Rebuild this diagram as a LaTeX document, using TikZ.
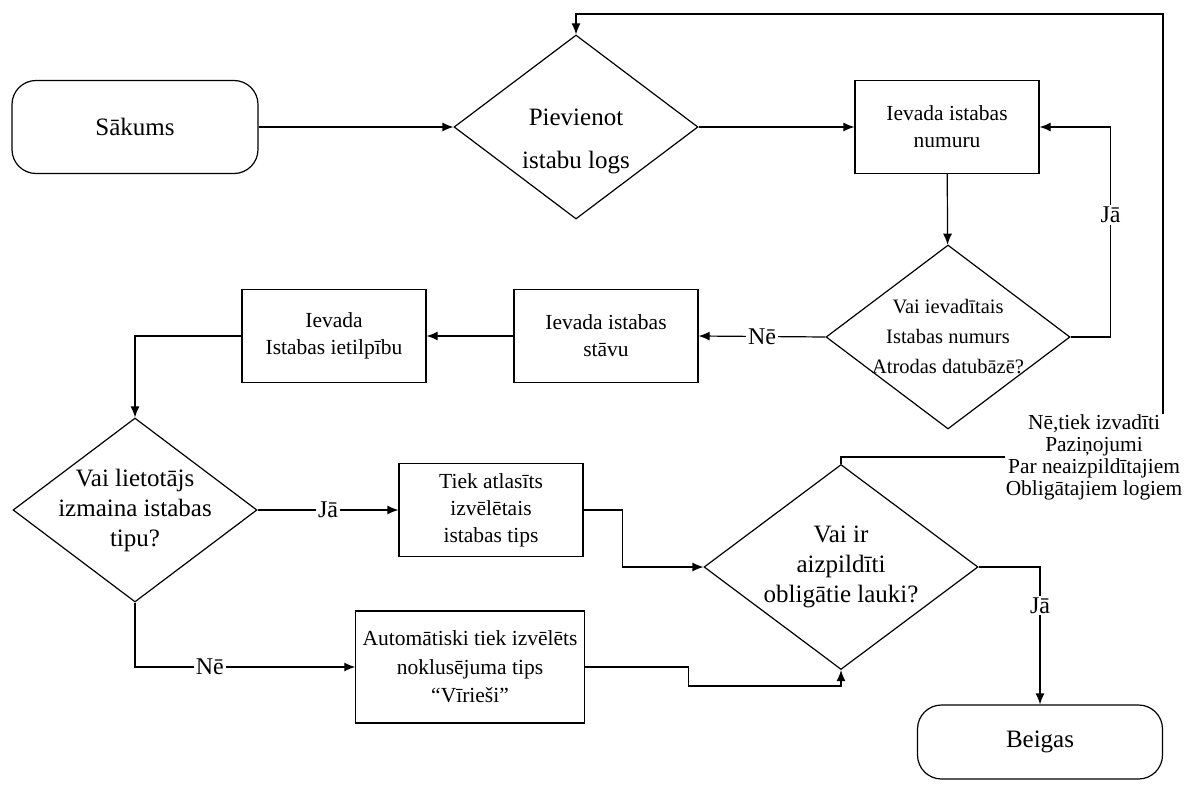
\documentclass[tikz,border=0pt]{standalone}
\usepackage{fontspec}
\setmainfont{Liberation Serif}
\usetikzlibrary{arrows.meta,shapes.geometric}

\begin{document}
\begin{tikzpicture}[->,>={Latex[length=5.5pt,width=4.5pt]},x=0.5pt,y=-0.5pt,semithick]
          \tikzstyle{term}=[draw,rounded corners=12pt,minimum width=123pt,minimum height=46.5pt,font=\fontsize{12.5}{15}\selectfont]
          \tikzstyle{proc}=[draw,align=center,minimum width=92pt,minimum height=46.5pt,font=\fontsize{10.75}{13.5}\selectfont]
          \tikzstyle{dec}=[draw,diamond,aspect=1.33,inner sep=-4pt,align=center,minimum width=122pt,minimum height=92pt,font=\fontsize{12.5}{15}\selectfont]
          \tikzstyle{lbl}=[fill=white,inner sep=1pt,font=\fontsize{12}{14}\selectfont]
          \useasboundingbox (0,0) rectangle (1186,791);

          \node[term] (A) at (135,127)  {Sākums};
          \node[dec,text height=44.5pt,font=\fontsize{12.5}{21.5}\selectfont] (B) at (576,127) {Pievienot\\istabu logs};
          \node[proc] (C) at (947,127)  {Ievada istabas\\numuru};
          \node[dec,font=\fontsize{10.25}{15}\selectfont] (D) at (948,337) {Vai ievadītais\\Istabas numurs\\Atrodas datubāzē?};
          \node[proc] (E) at (606,336)  {Ievada istabas\\stāvu};
          \node[proc] (F) at (334,336)  {Ievada\\Istabas ietilpību};
          \node[dec]  (G) at (135,510)  {Vai lietotājs\\izmaina istabas\\tipu?};
          \node[proc] (H) at (491,510)  {Tiek atlasīts\\izvēlētais\\istabas tips};
          \node[proc,minimum width=113pt,minimum height=56pt,font=\fontsize{10.75}{14.3}\selectfont] (I) at (470,667) {Automātiski tiek izvēlēts\\noklusējuma tips\\“Vīrieši”};
          \node[dec,aspect=1.34,minimum width=137pt,minimum height=102.5pt] (J) at (841,567) {Vai ir\\aizpildīti\\obligātie lauki?};
          \node[term,minimum width=122.5pt,minimum height=37pt] (K) at (1040,742) {Beigas};
          \node[align=center,inner sep=0pt,font=\fontsize{10.7}{11}\selectfont] (L) at (1094,457) {Nē,tiek izvadīti\\Paziņojumi\\Par neaizpildītajiem\\Obligātajiem logiem};
          \coordinate (M) at (1163,14);

          \draw (A) -- (B);
          \draw (B) -- (C);
          \draw (C) -- (D);
          \draw (D.east) -- ++(40,0) |- node[lbl,pos=0.29] {Jā} (C.east);
          \draw (D.west) -- node[lbl] {Nē} (E.east);
          \draw (E) -- (F);
          \draw (F.west) -| (G.north);
          \draw (G.east) -- node[lbl] {Jā} (H.west);
          \draw (G.south) |- node[lbl,pos=0.67] {Nē} (I.west);
          \draw (H.east) -- ++(39,0) |- (J.west);
          \draw (I.east) -- ++(104,0) -- ++(0,19) -| (J.south);
          \draw (J.east) -| node[lbl,pos=0.64] {Jā} (K.north);
          \draw[-] (J.north) |- (L.west);
          \draw (L.north -| M) -- (M) -| (B.north);
        \end{tikzpicture}
\end{document}
